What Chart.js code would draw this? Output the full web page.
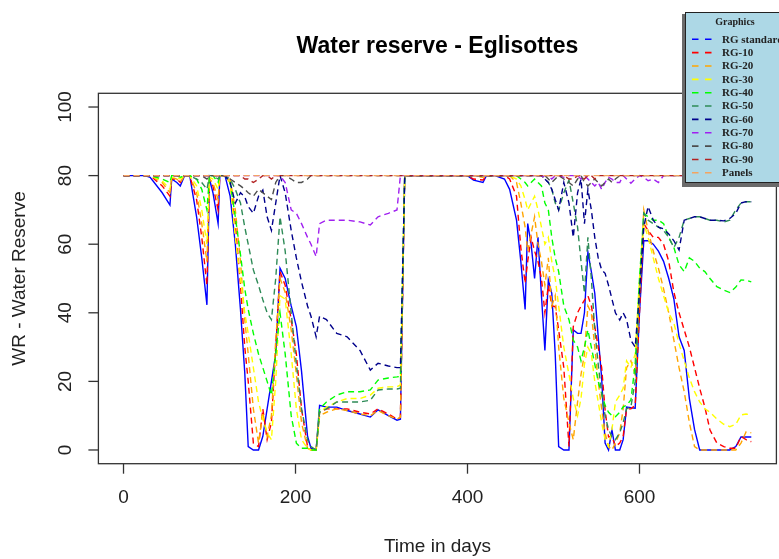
<!DOCTYPE html>
<html><head><meta charset="utf-8">
<script src="https://cdn.jsdelivr.net/npm/chart.js@4/dist/chart.umd.min.js"></script>
<style>html,body{margin:0;padding:0;background:#fff;}#wrap{width:779px;height:559px;}</style>
</head><body>
<div id="wrap"><canvas id="c" width="779" height="559"></canvas></div>
<script>
const days = [0,25,31,45,54,56,62,66,71,77,
85,91,97,100,104,110,112,118,124,130,
136,141,145,151,157,162,167,172,177,182,
188,195,201,207,214,218,224,228,236,248,
260,275,287,296,308,318,322,327,350,380,
400,407,418,422,432,443,449,457,462,467,
470,474,478,482,486,490,494,498,502,506,
512,518,523,528,532,536,540,544,548,552,
556,560,564,568,572,577,581,585,590,595,
600,605,610,616,622,628,634,640,646,652,
658,664,670,676,682,690,698,705,712,718,
724,730];

const rgStandard = [80,80,79.5,75,71.4,79,78,77,80,80,
68,56,42.3,79,75,66,80,80,74,60,
41,22.5,1,0,0,4,12,20,28,53,
50,42,36,23,4,0.5,0,13,12.5,12.5,
11.5,10.5,9.6,11.7,10,8.7,9,80,80,80,
80,78.7,78,80,80,79,76,67,55,41,
66,60,50,62,45,29,49.6,45.7,28,1,
0,0,35,34,34,40,57.7,52,45.7,33,
21,2,0,5.8,0,0,3,12.5,12.3,12.2,
40,61,61,60,58,55,50,44,33,29,
15,6,0,0,0,0,0,0,1,3.8,
3.8,3.8];

const rg10 = [80,80,80,77,74,79,79,78,80,80,
73,62,48,79,77,70,80,80,78,66,
48,30,20,2,1,12,3,8,30,52,
48,38,28,12,1,0,0,11,12,12,
12,11,10.5,12,10.5,9,9.5,80,80,80,
80,79,78.7,80,80,80,79,74,59,48.6,
55,62,58,55,50,40,48,42,41.8,35,
24,1,36,40,42,43.7,45,42,36,30,
24,11.7,3.8,4,1,2,4,12,12,13,
40,66,64,62,62,60,55,46,40,35,
30,24,18,12.5,5.8,2,1,0.5,0.5,3.9,
3,2.4];

const rg20 = [80,80,80,78,75,79.5,79,78,80,80,
75,66,55,79,78,73,80,80,79,70,
55,38,28,12,2,11,4,10,32,50,
46,35,22,8,0.5,0,0,10,11,12,
11.5,10.5,10,11.5,10,9,9.5,80,80,80,
80,80,79.5,80,80,80,80,78,72,65,
58,63,68,60,55,48,56,42,45,30,
15,8,3,14,22,28,42,40,30,20,
12,5,1,0,2,5,12,24,26,22,
45,70,64,58,53,47,40,32,24,17,
8,1,0,0,0,0,0,0,0,2,
5.3,5];

const rg30 = [80,80,80,78.5,76,79.5,79.5,79,80,80,
77,70,60,79.5,79,76,80,80,78,62,
50,40,34,24,14,9,5,3,20,45,
44,28,12,3,0.5,0,0,11,12.5,14,
15,15,16,18,18.4,18.4,19,80,80,80,
80,80,80,80,80,80,80,79,77,73,
70,72,74,70,65,60,62,55,50,42,
30,22,15,10,15,25,30,28,20,14,
8,3,1,6,14,16,18,26,24,28,
50,66,62,56,50,45,40,37,31,26,
21,17,14,12,11,9,7.5,6.8,7.5,10.2,
10.5,10.2];

const rg40 = [80,80,80,79,78,80,80,79.5,80,80,
79,76,70,80,80,78,80,80,78,68,
57,47,41,34,28,24,20,16,28,40,
28,10,2,0.5,0.5,0,0,12,14,16,
17,17,17.5,20.4,21,21.3,21.5,80,80,80,
80,80,80,80,80,80,80,80,79,78,
77,78,79,78,77,72,70,62,56,52,
42,38,32,30,26,30,35,30,25,20,
16.5,13,11,10,9.7,11,12.6,13,14.6,25,
50,69,68,67,67,66,62,59,54,52,
56,55,53,52,50,47.6,46.6,45.9,47.5,49.6,
49.5,49];

const rg50 = [80,80,80,80,80,80,80,80,80,80,
79,78,76,80,80,79,80,80,79,76,
72,65,60,52.5,48,43.8,40,38,50,68,
58,40,25,12,3,1,0,11,12,14,
14,14,14.5,17.5,17.8,17.8,18,80,80,80,
80,80,80,80,80,80,80,80,80,80,
80,80,80,80,80,79,78,76,72,70,
75,78.7,72,65,55,45.7,62,50,35,25,
16.5,10,6,3.8,3,5,8,12,12.6,20,
46,69,67,66,65,64,62,59,62,67,
67.5,68,68,67.5,67,67,66.5,67,70,72,
72.4,72.4];

const rg60 = [80,80,80,80,80,80,80,80,80,80,
80,80,80,80,80,80,80,80,78,72,
75,73.8,71,69,74,75.8,68,64,72,80,
75,64,56,49,42,39,33,39,38,34,
33,29,23.3,25.3,24.5,24,24,80,80,80,
80,80,80,80,80,80,80,80,80,80,
80,80,80,80,80,79,78,76,73,70,
78,72,62,75,79,66,76,70,62,56,
52.5,51.5,48,44,40,37.9,40,38,32,30,
45.7,65,71,67,65,64.5,63,61,58.3,67,
67.5,68,68,67.5,67,67,66.8,67.5,69,72,
72.4,72.4];

const rg70 = [80,80,80,80,80,80,80,80,80,80,
80,80,80,80,80,80,80,80,80,80,
80,80,80,80,80,80,80,80,80,80,
78,70,69,66,62,60,56.4,66,67,67,
67,66.5,65.6,68,69,70,80,80,80,80,
80,80,80,80,80,80,80,80,80,80,
80,80,80,80,79.5,80,80,79,80,80,
79.5,80,80,80,79,80,79,78,77,78,
76,78,79.5,79,78,78,80,79,77.8,79,
80,79.5,78.5,79,78,80,80,80,80,80,
80,80,80,80,80,80,80,80,80,80,
80,80];

const rg80 = [80,80,80,80,80,80,80,80,80,80,
80,80,79,80,80,80,80,80,79,78,
77,76,75,74,76,75,74,73,78,80,
80,79,78,78,79,80,80,80,80,80,
80,80,80,80,80,80,80,80,80,80,
80,80,80,80,80,80,80,80,80,80,
80,80,80,80,80,80,79,78,79,80,
79,78,77,79,80,78,77,78,79,78,
77,78,79,78,79,80,80,80,80,80,
80,80,80,80,80,80,80,80,80,80,
80,80,80,80,80,80,80,80,80,80,
80,80];

const rg90 = [80,80,80,80,80,80,80,80,80,80,
80,80,80,80,80,80,80,80,80,80,
80,79,79,78,79,80,80,79,80,80,
80,80,80,80,80,80,80,80,80,80,
80,80,80,80,80,80,80,80,80,80,
80,80,80,80,80,80,80,80,80,80,
80,80,80,80,80,80,80,80,80,80,
80,79,79,80,80,79,80,80,79,80,
80,80,80,80,80,80,80,80,80,80,
80,80,80,80,80,80,80,80,80,80,
80,80,80,80,80,80,80,80,80,80,
80,80];

const panels = [80,80,80,80,80,80,80,80,80,80,
80,80,80,80,80,80,80,80,80,80,
80,80,80,80,80,80,80,80,80,80,
80,80,80,80,80,80,80,80,80,80,
80,80,80,80,80,80,80,80,80,80,
80,80,80,80,80,80,80,80,80,80,
80,80,80,80,80,80,80,80,80,80,
80,80,80,80,80,80,80,80,80,80,
80,80,80,80,80,80,80,80,80,80,
80,80,80,80,80,80,80,80,80,80,
80,80,80,80,80,80,80,80,80,80,
80,80];

const seriesNames = ['RG standard','RG-10','RG-20','RG-30','RG-40','RG-50','RG-60','RG-70','RG-80','RG-90','Panels'];
const seriesValues = [rgStandard, rg10, rg20, rg30, rg40, rg50, rg60, rg70, rg80, rg90, panels];
const xTicks = [0, 200, 400, 600];
const yTicks = [0, 20, 40, 60, 80, 100];
const chartTitle = 'Water reserve - Eglisottes';
const xTitle = 'Time in days';
const yTitle = 'WR - Water Reserve';
const legendTitle = 'Graphics';

// styles
const seriesColors = ['#0000FF','#FF0000','#FFA500','#FFFF00','#00FF00','#2E8B57','#00008B','#A020F0','#4D4D4D','#B22222','#F4A460'];

const datasets = seriesValues.map((vals, i) => ({
  label: seriesNames[i],
  data: days.map((d, j) => ({ x: d, y: vals[j] })),
  borderColor: seriesColors[i],
  borderWidth: 1.4,
  borderDash: i === 0 ? [] : [6, 4],
  pointRadius: 0,
  tension: 0,
  fill: false,
  order: seriesNames.length - i
}));

const rPlot = {
  id: 'rplot',
  afterDatasetsDraw(chart) {
    const { ctx, chartArea: a, scales: { x, y } } = chart;
    ctx.save();
    ctx.strokeStyle = '#333';
    ctx.lineWidth = 1.3;
    ctx.setLineDash([]);
    ctx.strokeRect(a.left, a.top, a.right - a.left, a.bottom - a.top);
    ctx.fillStyle = '#222';
    ctx.font = '19px "Liberation Sans", Arial, sans-serif';
    ctx.textAlign = 'center';
    ctx.textBaseline = 'middle';
    xTicks.forEach(v => {
      const px = x.getPixelForValue(v);
      ctx.beginPath(); ctx.moveTo(px, a.bottom); ctx.lineTo(px, a.bottom + 10); ctx.stroke();
      ctx.fillText(String(v), px, 498);
    });
    yTicks.forEach(v => {
      const py = y.getPixelForValue(v);
      ctx.beginPath(); ctx.moveTo(a.left - 10, py); ctx.lineTo(a.left, py); ctx.stroke();
      ctx.save(); ctx.translate(66, py); ctx.rotate(-Math.PI / 2);
      ctx.fillText(String(v), 0, 0); ctx.restore();
    });
    ctx.fillText(xTitle, (a.left + a.right) / 2, 547);
    ctx.save(); ctx.translate(20, (a.top + a.bottom) / 2); ctx.rotate(-Math.PI / 2);
    ctx.fillText(yTitle, 0, 0); ctx.restore();
    ctx.font = 'bold 23px "Liberation Sans", Arial, sans-serif';
    ctx.fillStyle = '#000';
    ctx.fillText(chartTitle, (a.left + a.right) / 2, 47);
    ctx.restore();
  },
  afterDraw(chart) {
    const ctx = chart.ctx;
    ctx.save();
    ctx.fillStyle = '#6b6b6b';
    ctx.fillRect(682, 14, 100, 173);
    ctx.fillStyle = '#ADD8E6';
    ctx.fillRect(685, 12, 100, 171);
    ctx.strokeStyle = '#222';
    ctx.lineWidth = 1;
    ctx.strokeRect(685.5, 12.5, 100, 170);
    ctx.fillStyle = '#222';
    ctx.textAlign = 'center';
    ctx.textBaseline = 'middle';
    ctx.font = 'bold 10px "Liberation Serif", "Times New Roman", serif';
    ctx.fillText(legendTitle, 735, 22);
    ctx.textAlign = 'left';
    ctx.font = 'bold 11px "Liberation Serif", "Times New Roman", serif';
    seriesNames.forEach((n, i) => {
      const yy = 39.3 + i * 13.35;
      ctx.strokeStyle = seriesColors[i];
      ctx.lineWidth = 1.6;
      ctx.setLineDash([6.5, 6.5]);
      ctx.beginPath(); ctx.moveTo(692, yy); ctx.lineTo(712, yy); ctx.stroke();
      ctx.setLineDash([]);
      ctx.fillStyle = '#222';
      ctx.fillText(n, 722, yy + 0.5);
    });
    ctx.restore();
  }
};

new Chart(document.getElementById('c'), {
  type: 'line',
  data: { datasets },
  options: {
    responsive: false,
    animation: false,
    devicePixelRatio: 1,
    layout: { padding: { left: 98.4, top: 93.3, right: 2.6, bottom: 95.3 } },
    plugins: { legend: { display: false }, tooltip: { enabled: false }, title: { display: false } },
    scales: {
      x: { type: 'linear', min: -29.2, max: 759.2, display: false },
      y: { type: 'linear', min: -4, max: 104, display: false }
    }
  },
  plugins: [rPlot]
});
</script>
</body></html>
